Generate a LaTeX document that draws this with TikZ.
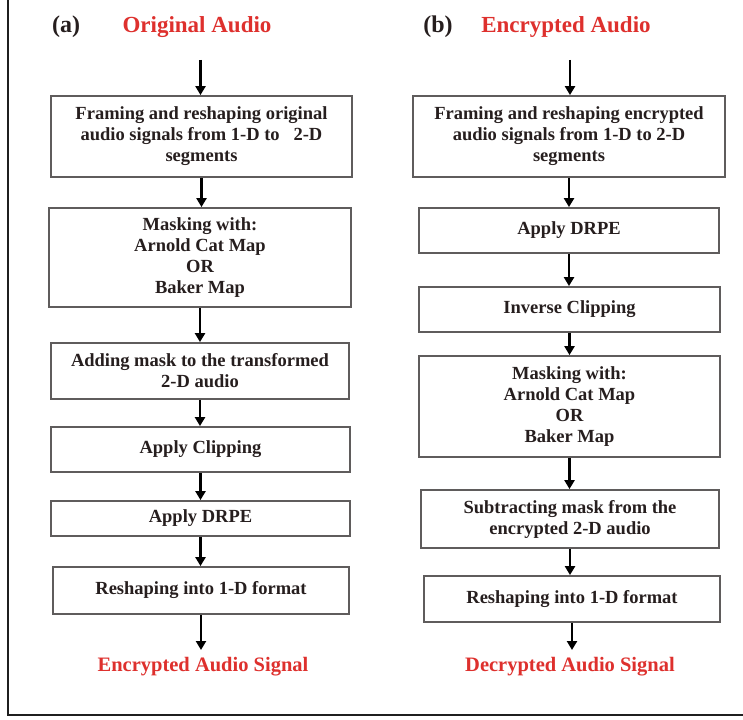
\documentclass[tikz,border=0pt]{standalone}
\usepackage{fontspec}
\setmainfont{Liberation Serif}
\usetikzlibrary{arrows.meta}
\definecolor{titlered}{RGB}{222,48,45}
\definecolor{boxgray}{RGB}{95,92,92}
\definecolor{textdark}{RGB}{38,30,30}
\tikzset{
  x=1pt, y=-1pt,
  stepbox/.style={draw=boxgray, line width=1.8pt, fill=white, align=center,
    inner sep=0pt, text=textdark,
    font=\fontsize{18.5}{21}\selectfont\bfseries},
  flow/.style={line width=2.8pt, draw=black, -{Triangle[length=9pt,width=10pt]}},
  heading/.style={text=titlered, font=\fontsize{23}{26}\selectfont\bfseries},
  result/.style={text=titlered, font=\fontsize{20.5}{24}\selectfont\bfseries},
  panel/.style={text=textdark, font=\fontsize{24}{27}\selectfont\bfseries}
}
\begin{document}
\begin{tikzpicture}
\useasboundingbox (0,0) rectangle (743,719);
\fill[white] (0,0) rectangle (743,719);
% outer frame (left and bottom edges)
\draw[line width=2.6pt, draw=black!88] (8,0) -- (8,715) -- (743,715);

% ---- (a) encryption ----
\node[panel] (la) at (66,27) {(a)};
\node[heading] (ta) at (197,27) {Original Audio};
\coordinate (sa) at (200.5,60);
\node[stepbox, minimum width=301pt, minimum height=81pt] (a1) at (201.5,136.5)
  {Framing and reshaping original\\audio signals from 1-D to \ \ 2-D\\segments};
\node[stepbox, minimum width=302pt, minimum height=99pt] (a2) at (200,257.5)
  {Masking with:\\Arnold Cat Map\\OR\\Baker Map};
\node[stepbox, minimum width=298pt, minimum height=56pt] (a3) at (200,371)
  {Adding mask to the transformed\\2-D audio};
\node[stepbox, minimum width=299pt, minimum height=45pt] (a4) at (200.5,449.5)
  {Apply Clipping};
\node[stepbox, minimum width=299pt, minimum height=35pt] (a5) at (200.5,518.5)
  {Apply DRPE};
\node[stepbox, minimum width=296pt, minimum height=47pt] (a6) at (201,590.5)
  {Reshaping into 1-D format};
\coordinate (ea) at (202,650);
\node[result] (oa) at (203,667) {Encrypted Audio Signal};

\draw[flow] (sa) -- (sa |- a1.north);
\draw[flow] (a1.south) -- (a1.south |- a2.north);
\draw[flow] (a2.south) -- (a2.south |- a3.north);
\draw[flow] (a3.south) -- (a3.south |- a4.north);
\draw[flow] (a4.south) -- (a4.south |- a5.north);
\draw[flow] (a5.south) -- (a5.south |- a6.north);
\draw[flow] (a6.south) -- (a6.south |- ea);

% ---- (b) decryption ----
\node[panel] (lb) at (438,27) {(b)};
\node[heading] (tb) at (566,27) {Encrypted Audio};
\coordinate (sb) at (570,60);
\node[stepbox, minimum width=312pt, minimum height=81pt] (b1) at (569,136.5)
  {Framing and reshaping encrypted\\audio signals from 1-D to 2-D\\segments};
\node[stepbox, minimum width=300pt, minimum height=45pt] (b2) at (569,230.5)
  {Apply DRPE};
\node[stepbox, minimum width=301pt, minimum height=45pt] (b3) at (569.5,309.5)
  {Inverse Clipping};
\node[stepbox, minimum width=301pt, minimum height=101pt] (b4) at (569.5,406.5)
  {Masking with:\\Arnold Cat Map\\OR\\Baker Map};
\node[stepbox, minimum width=298pt, minimum height=58pt] (b5) at (570,519)
  {Subtracting mask from the\\encrypted 2-D audio};
\node[stepbox, minimum width=296pt, minimum height=46pt] (b6) at (572,599)
  {Reshaping into 1-D format};
\coordinate (eb) at (572,650);
\node[result] (ob) at (570,667) {Decrypted Audio Signal};

\draw[flow] (sb) -- (sb |- b1.north);
\draw[flow] (b1.south) -- (b1.south |- b2.north);
\draw[flow] (b2.south) -- (b2.south |- b3.north);
\draw[flow] (b3.south) -- (b3.south |- b4.north);
\draw[flow] (b4.south) -- (b4.south |- b5.north);
\draw[flow] (b5.south) -- (b5.south |- b6.north);
\draw[flow] (b6.south) -- (b6.south |- eb);
\end{tikzpicture}
\end{document}
